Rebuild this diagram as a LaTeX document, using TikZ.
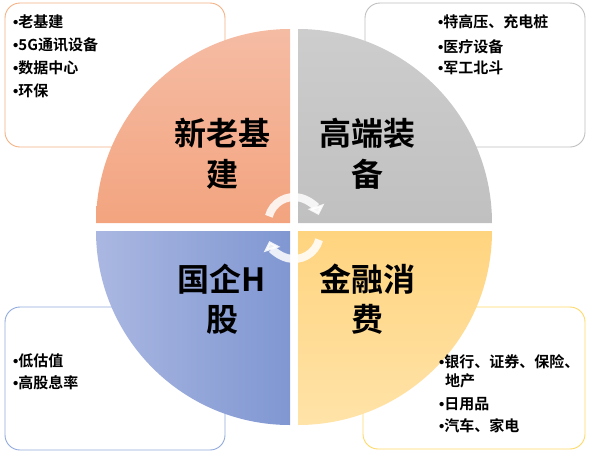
\documentclass[tikz,border=0pt]{standalone}
\usepackage{fontspec}
\setmainfont{Noto Sans CJK SC}[BoldFont={Noto Sans CJK SC Bold}]
\newfontfamily\bulfont{Liberation Sans}
\newcommand{\bul}{{\bulfont\bfseries •}}
\usetikzlibrary{arrows.meta}
\definecolor{tlA}{HTML}{F5BCA4}
\definecolor{tlB}{HTML}{F3A47F}
\definecolor{trA}{HTML}{CDCDCD}
\definecolor{trB}{HTML}{C0C0C0}
\definecolor{blA}{HTML}{AAB7E1}
\definecolor{blB}{HTML}{8097D2}
\definecolor{brA}{HTML}{FFD47F}
\definecolor{brB}{HTML}{FFE3A8}
\definecolor{tlLine}{HTML}{F4B183}
\definecolor{trLine}{HTML}{BFBFBF}
\definecolor{blLine}{HTML}{8FAADC}
\definecolor{brLine}{HTML}{FFD966}
\begin{document}
\begin{tikzpicture}[x=1pt,y=-1pt,
  listbox/.style={line width=0.9pt, rounded corners=15pt, fill=white},
  big/.style={font=\fontsize{32}{41}\selectfont\bfseries, inner sep=0pt, anchor=base},
  item/.style={font=\fontsize{15}{23}\selectfont\bfseries, inner sep=0pt, anchor=base west},
  cyc/.style={line width=8pt, white, opacity=0.85, -{Triangle[width=17pt,length=9pt]}}]
\useasboundingbox (0,0) rectangle (589,456);
% list boxes
\draw[listbox, draw=tlLine] (5,3) rectangle (225,147);
\draw[listbox, draw=trLine] (365,3) rectangle (585,147);
\draw[listbox, draw=blLine] (5,307) rectangle (225,450);
\draw[listbox, draw=brLine] (363,307) rectangle (585,449);
% quadrants
\shade[top color=tlA, bottom color=tlB] (290,223) -- ++(-194,0) arc[start angle=180, end angle=270, radius=194] -- cycle;
\shade[top color=trA, bottom color=trB] (298,223) -- ++(0,-194) arc[start angle=270, end angle=360, radius=194] -- cycle;
\shade[left color=blA, right color=blB] (290,231) -- ++(0,194) arc[start angle=90, end angle=180, radius=194] -- cycle;
\shade[top color=brA, bottom color=brB] (298,231) -- ++(194,0) arc[start angle=0, end angle=90, radius=194] -- cycle;
% cycle arrows
\coordinate (c1) at (294,223);
\coordinate (c2) at (294,233);
\draw[cyc] (c1) ++(-165:26) arc[start angle=-165, end angle=-18, radius=26];
\draw[cyc] (c2) ++(15:26) arc[start angle=15, end angle=162, radius=26];
% big labels
\node[big] (q1a) at (222,145) {新老基};
\node[big] (q1b) at (222,186) {建};
\node[big] (q2a) at (367,145) {高端装};
\node[big] (q2b) at (367,186) {备};
\node[big] (q3a) at (222,291) {国企H};
\node[big] (q3b) at (222,331) {股};
\node[big] (q4a) at (367,291) {金融消};
\node[big] (q4b) at (367,331) {费};
% lists
\node[item] (a1) at (13,27) {\bul{}老基建};
\node[item] (a2) at (13,50) {\bul{}5G通讯设备};
\node[item] (a3) at (13,73) {\bul{}数据中心};
\node[item] (a4) at (13,96) {\bul{}环保};
\node[item] (b1) at (438,27) {\bul{}特高压、充电桩};
\node[item] (b2) at (438,52) {\bul{}医疗设备};
\node[item] (b3) at (438,73) {\bul{}军工北斗};
\node[item] (c1t) at (13,366) {\bul{}低估值};
\node[item] (c2t) at (13,388) {\bul{}高股息率};
\node[item] (d1) at (439,367) {\bul{}银行、证券、保险、};
\node[item] (d1b) at (445,386) {地产};
\node[item] (d2) at (439,409) {\bul{}日用品};
\node[item] (d3) at (439,431) {\bul{}汽车、家电};
\end{tikzpicture}
\end{document}
